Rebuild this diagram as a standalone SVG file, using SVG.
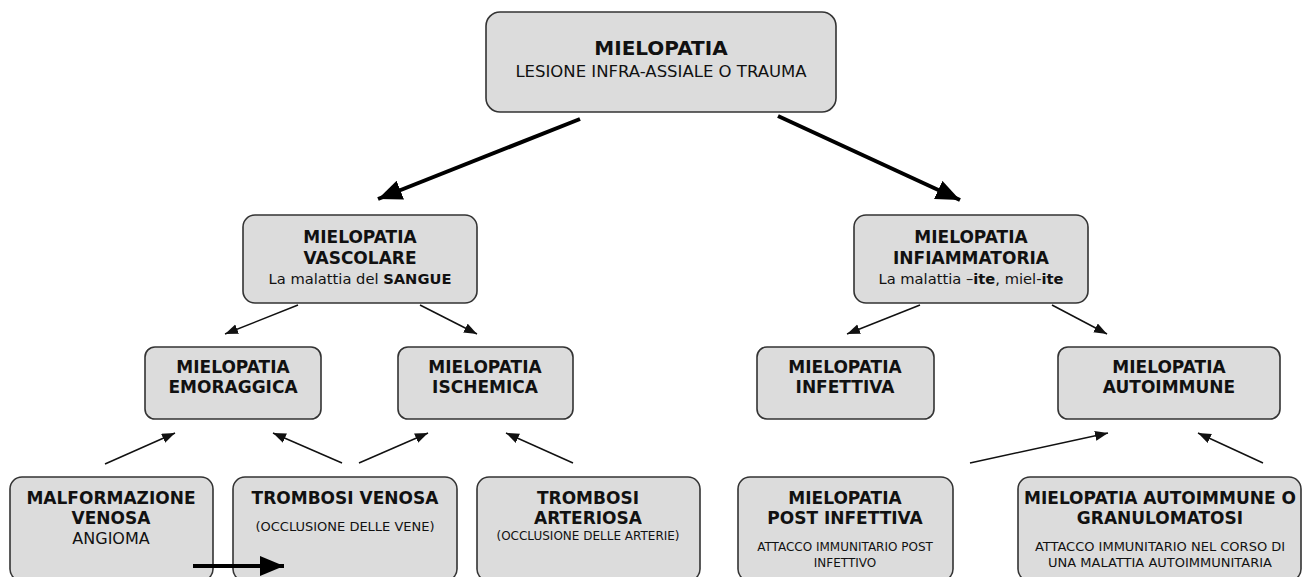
<svg xmlns="http://www.w3.org/2000/svg" width="1311" height="577" viewBox="0 0 1311 577">
<style>
.box{fill:#dcdcdc;stroke:#333;stroke-width:1.6}
text{font-family:"DejaVu Sans",Verdana,sans-serif;fill:#111;text-anchor:middle}
.t{font-weight:bold;font-size:17px}
.tt{font-weight:bold;font-size:20px}
.s{font-size:16.5px}
.sub{font-size:14.7px}
.a{font-size:16px}
.m{font-size:13px}
.xs{font-size:12px}
.thin{stroke:#111;stroke-width:1.5;fill:none;marker-end:url(#ah)}
.thick{stroke:#000;stroke-width:4;fill:none;marker-end:url(#ahb)}
</style>
<defs>
<marker id="ah" markerUnits="userSpaceOnUse" markerWidth="14" markerHeight="12" refX="13" refY="5" orient="auto"><path d="M0,0 L13,5 L0,10 z" fill="#111"/></marker>
<marker id="ahb" markerUnits="userSpaceOnUse" markerWidth="26" markerHeight="22" refX="24" refY="10" orient="auto"><path d="M0,0 L24,10 L0,20 z" fill="#000"/></marker>
</defs>
<rect width="1311" height="577" fill="#fff"/>
<g id="n-root">
<rect class="box" x="486" y="12" width="350" height="100" rx="14"/>
<text class="tt" x="661" y="55">MIELOPATIA</text>
<text class="s" x="661" y="77">LESIONE INFRA-ASSIALE O TRAUMA</text>
</g>
<g id="n-vascolare">
<rect class="box" x="243" y="215" width="234" height="88" rx="12"/>
<text class="t" x="360" y="243">MIELOPATIA</text>
<text class="t" x="360" y="264">VASCOLARE</text>
<text class="sub" x="360" y="284">La malattia del <tspan font-weight="bold">SANGUE</tspan></text>
</g>
<g id="n-infiammatoria">
<rect class="box" x="854" y="215" width="234" height="88" rx="12"/>
<text class="t" x="971" y="243">MIELOPATIA</text>
<text class="t" x="971" y="264">INFIAMMATORIA</text>
<text class="sub" x="971" y="284">La malattia –<tspan font-weight="bold">ite</tspan>, miel-<tspan font-weight="bold">ite</tspan></text>
</g>
<g id="n-emoraggica">
<rect class="box" x="145" y="347" width="176" height="72" rx="10"/>
<text class="t" x="233" y="373">MIELOPATIA</text>
<text class="t" x="233" y="393">EMORAGGICA</text>
</g>
<g id="n-ischemica">
<rect class="box" x="398" y="347" width="175" height="72" rx="10"/>
<text class="t" x="485" y="373">MIELOPATIA</text>
<text class="t" x="485" y="393">ISCHEMICA</text>
</g>
<g id="n-infettiva">
<rect class="box" x="757" y="347" width="177" height="72" rx="10"/>
<text class="t" x="845" y="373">MIELOPATIA</text>
<text class="t" x="845" y="393">INFETTIVA</text>
</g>
<g id="n-autoimmune">
<rect class="box" x="1058" y="347" width="222" height="72" rx="10"/>
<text class="t" x="1169" y="373">MIELOPATIA</text>
<text class="t" x="1169" y="393">AUTOIMMUNE</text>
</g>
<g id="n-malformazione">
<rect class="box" x="10" y="477" width="203" height="104" rx="12"/>
<text class="t" x="111" y="504">MALFORMAZIONE</text>
<text class="t" x="111" y="524">VENOSA</text>
<text class="a" x="111" y="544">ANGIOMA</text>
</g>
<g id="n-trombosi-venosa">
<rect class="box" x="233" y="477" width="224" height="104" rx="12"/>
<text class="t" x="345" y="504">TROMBOSI VENOSA</text>
<text class="m" x="345" y="531">(OCCLUSIONE DELLE VENE)</text>
</g>
<g id="n-trombosi-arteriosa">
<rect class="box" x="477" y="477" width="223" height="104" rx="12"/>
<text class="t" x="588" y="504">TROMBOSI</text>
<text class="t" x="588" y="524">ARTERIOSA</text>
<text class="xs" x="588" y="540">(OCCLUSIONE DELLE ARTERIE)</text>
</g>
<g id="n-post-infettiva">
<rect class="box" x="738" y="477" width="215" height="104" rx="12"/>
<text class="t" x="845" y="504">MIELOPATIA</text>
<text class="t" x="845" y="524">POST INFETTIVA</text>
<text class="xs" x="845" y="551">ATTACCO IMMUNITARIO POST</text>
<text class="xs" x="845" y="567">INFETTIVO</text>
</g>
<g id="n-granulomatosi">
<rect class="box" x="1018" y="477" width="283" height="104" rx="12"/>
<text class="t" x="1160" y="504">MIELOPATIA AUTOIMMUNE O</text>
<text class="t" x="1160" y="524">GRANULOMATOSI</text>
<text class="m" x="1160" y="551">ATTACCO IMMUNITARIO NEL CORSO DI</text>
<text class="m" x="1160" y="567">UNA MALATTIA AUTOIMMUNITARIA</text>
</g>
<g id="connectors">
<line class="thick" x1="580" y1="119" x2="378" y2="199"/>
<line class="thick" x1="778" y1="116" x2="960" y2="200"/>
<line class="thin" x1="298" y1="305" x2="225" y2="334"/>
<line class="thin" x1="420" y1="305" x2="477" y2="334"/>
<line class="thin" x1="920" y1="305" x2="847" y2="334"/>
<line class="thin" x1="1052" y1="305" x2="1107" y2="334"/>
<line class="thin" x1="105" y1="464" x2="175" y2="433"/>
<line class="thin" x1="342" y1="463" x2="273" y2="433"/>
<line class="thin" x1="359" y1="463" x2="428" y2="433"/>
<line class="thin" x1="573" y1="463" x2="506" y2="433"/>
<line class="thin" x1="970" y1="463" x2="1108" y2="433"/>
<line class="thin" x1="1263" y1="463" x2="1198" y2="433"/>
<line class="thick" x1="193" y1="566" x2="284" y2="566"/>
</g>
</svg>
